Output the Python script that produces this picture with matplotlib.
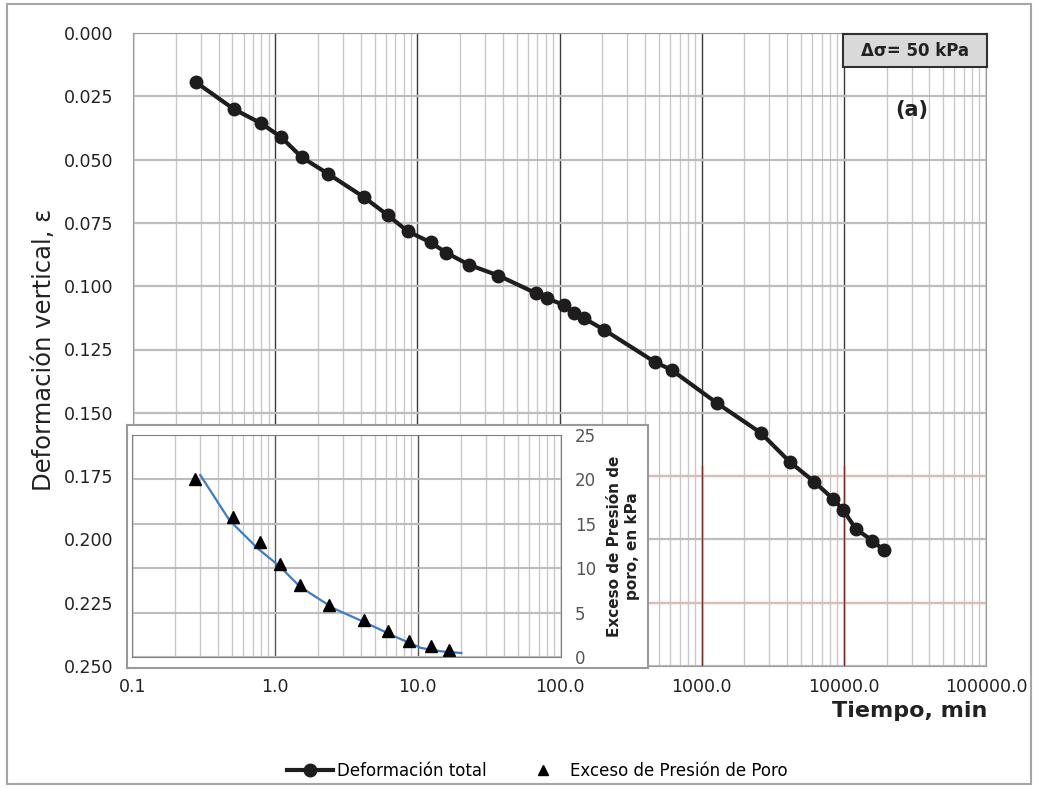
#Consolidation curve with pore pressure inset, load step 50 kPa

import matplotlib.pyplot as plt
from matplotlib.patches import Rectangle
from matplotlib.ticker import FixedLocator, LogLocator

plt.rcParams['font.family'] = ['DejaVu Sans']

# total vertical strain vs time
Time = [0.278, 0.51, 0.797, 1.10, 1.54, 2.37, 4.2, 6.18, 8.55, 12.4, 16.0, 23.2, 37.2,
	68.5, 81.8, 107, 126, 148, 207, 467, 615, 1276, 2600, 4170, 6180, 8410, 9890,
	12160, 15900, 19050]
Strain = [0.0195, 0.0300, 0.0357, 0.0411, 0.0491, 0.0557, 0.0648, 0.0719, 0.0783, 0.0827,
	0.0868, 0.0916, 0.0958, 0.1028, 0.1048, 0.1074, 0.1106, 0.1126, 0.1173, 0.1299,
	0.1331, 0.1461, 0.1579, 0.1694, 0.1772, 0.1840, 0.1884, 0.1959, 0.2005, 0.2042]

# excess pore pressure (measured)
TimeU = [0.274, 0.51, 0.78, 1.08, 1.50, 2.37, 4.19, 6.12, 8.68, 12.4, 16.4]
PoreU = [20.0, 15.8, 12.9, 10.46, 8.06, 5.83, 4.14, 2.93, 1.8, 1.29, 0.83]

# excess pore pressure (fitted curve)
TimeFit = [0.30, 0.48, 0.76, 1.08, 1.50, 2.58, 4.19, 6.81, 10.5, 14.5, 20.1]
PoreFit = [20.5, 15.4, 12.2, 10.2, 7.9, 5.46, 3.95, 2.34, 1.02, 0.64, 0.45]

XTicks = [0.1, 1, 10, 100, 1000, 10000, 100000]
XTickLabels = ['0.1', '1.0', '10.0', '100.0', '1000.0', '10000.0', '100000.0']
YTicks = [0.000, 0.025, 0.050, 0.075, 0.100, 0.125, 0.150, 0.175, 0.200, 0.225, 0.250]
UTicks = [0, 5, 10, 15, 20, 25]

W = 1042.0
H = 788.0

def box(x0, y0, x1, y1):
	# pixel box -> figure fraction [left, bottom, width, height]
	return [x0/W, 1 - y1/H, (x1 - x0)/W, (y1 - y0)/H]

fig = plt.figure(figsize=(10.42, 7.88), dpi=100)

fig.patches.append(Rectangle((7/W, 4/H), 1024/W, 780/H, transform=fig.transFigure,
	fill=False, edgecolor='#a6a6a6', linewidth=1.5))

ax = fig.add_axes(box(133, 33, 986, 666))
ax.set_xscale('log')
ax.set_xlim(0.1, 100000)
ax.set_ylim(0.25, 0.0)

ax.set_xticks(XTicks)
ax.set_xticklabels(XTickLabels)
ax.xaxis.set_minor_locator(LogLocator(base=10, subs=range(2, 10)))
ax.xaxis.set_minor_formatter(plt.NullFormatter())
ax.set_yticks(YTicks)
ax.set_yticklabels(['%.3f' % v for v in YTicks])
ax.tick_params(axis='both', which='both', length=0, labelsize=12.5, colors='#222222')
ax.tick_params(axis='y', pad=14)
ax.tick_params(axis='x', pad=9)

ax.grid(True, which='minor', axis='x', color='#c9c9c9', linewidth=1.0)
ax.grid(True, which='major', axis='x', color='#3a3a3a', linewidth=1.0)
ax.grid(True, which='major', axis='y', color='#bdbdbd', linewidth=1.6)
for v in [0.175, 0.225]:
	ax.axhline(v, color='#dcbdb6', linewidth=1.6, zorder=0.6)
for v in [1000, 10000]:
	ax.plot([v, v], [0.171, 0.25], color='#7a2e22', linewidth=1.0, zorder=0.7)
for s in ax.spines.values():
	s.set_color('#9a9a9a')
ax.set_axisbelow(True)

ax.plot(Time, Strain, color='#1e1c1c', linewidth=3, marker='o', markersize=9,
	label='Deformación total', zorder=3)
ax.plot([], [], linestyle='none', marker='^', color='black', markersize=7,
	label='Exceso de Presión de Poro')

ax.set_ylabel('Deformación vertical, ε', fontsize=17.5, labelpad=6, color='#222222')
fig.text(910/W, 1 - 711/H, 'Tiempo, min', fontsize=16, fontweight='bold',
	ha='center', va='center', color='#222222')

# load step label
lab = fig.add_axes(box(843, 34, 987, 67))
lab.set_xticks([])
lab.set_yticks([])
lab.set_facecolor('#d9d9d9')
for s in lab.spines.values():
	s.set_color('#303030')
	s.set_linewidth(1.5)
lab.text(0.5, 0.5, 'Δσ= 50 kPa', ha='center', va='center', fontsize=12, fontweight='bold',
	color='#222222')
fig.text(912/W, 1 - 110/H, '(a)', ha='center', va='center', fontsize=15, fontweight='bold',
	color='#222222')

# inset frame
frame = fig.add_axes(box(127, 425, 648, 668))
frame.set_xticks([])
frame.set_yticks([])
frame.set_facecolor('white')
for s in frame.spines.values():
	s.set_color('#9a9a9a')
	s.set_linewidth(1.5)

ins = fig.add_axes(box(132, 435, 561, 657))
ins.set_xscale('log')
ins.set_xlim(0.1, 100)
ins.set_ylim(0, 25)
ins.xaxis.set_major_locator(FixedLocator([0.1, 1, 10, 100]))
ins.xaxis.set_minor_locator(LogLocator(base=10, subs=range(2, 10)))
ins.xaxis.set_major_formatter(plt.NullFormatter())
ins.xaxis.set_minor_formatter(plt.NullFormatter())
ins.set_yticks(UTicks)
ins.yaxis.tick_right()
ins.tick_params(axis='both', which='both', length=0, labelsize=12, colors='#555555', pad=10)
ins.grid(True, which='minor', axis='x', color='#c9c9c9', linewidth=1.0)
ins.grid(True, which='major', axis='x', color='#555555', linewidth=1.0)
ins.grid(True, which='major', axis='y', color='#bdbdbd', linewidth=1.5)
ins.set_axisbelow(True)
for s in ins.spines.values():
	s.set_color('#808080')

ins.plot(TimeFit, PoreFit, color='#3d7cc9', linewidth=1.6)
ins.plot(TimeU, PoreU, linestyle='none', marker='^', color='black', markersize=9)

ins.yaxis.set_label_position('right')
ins.set_ylabel('Exceso de Presión de\nporo, en kPa', fontsize=11, fontweight='bold',
	rotation=90, labelpad=8, color='#222222')

fig.legend(loc='center', bbox_to_anchor=(537/W, 1 - 771/H), ncol=2, frameon=False,
	fontsize=12, handlelength=2.8, columnspacing=2.0, handletextpad=0.2)

plt.savefig('out.png', dpi=100)
plt.close()
